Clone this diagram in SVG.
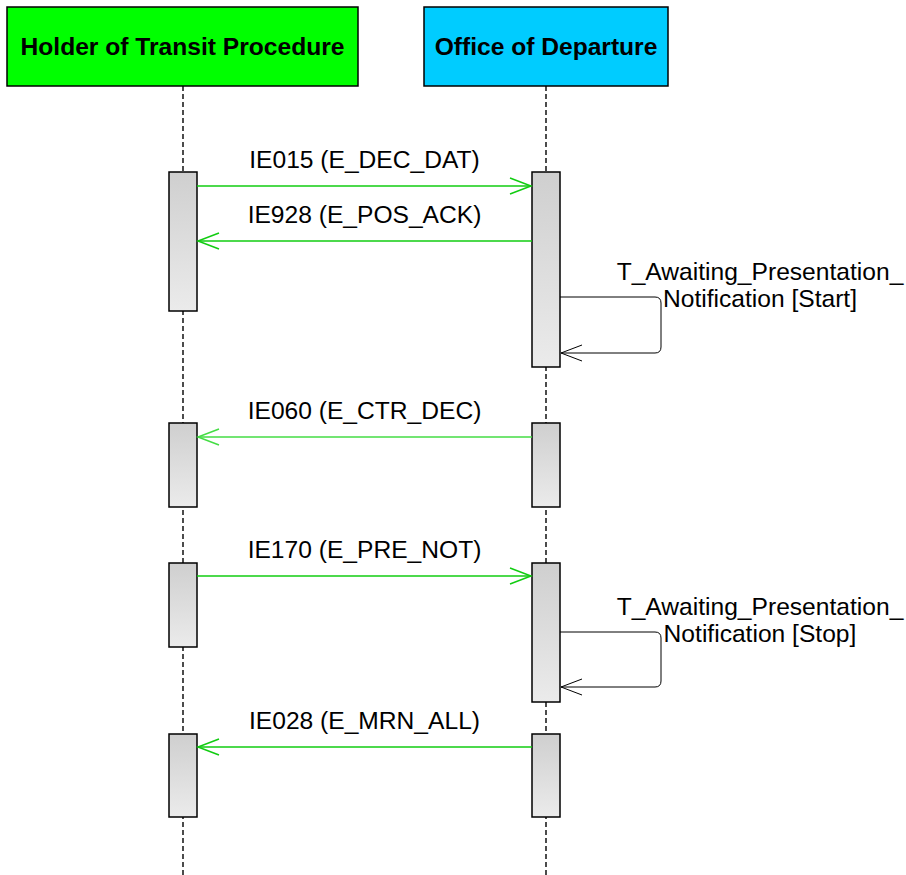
<svg xmlns="http://www.w3.org/2000/svg" width="906" height="875" viewBox="0 0 906 875">
<style>
.hdr{stroke:#000;stroke-width:1.5}
.ht{font-family:"Liberation Sans",Arial,sans-serif;font-size:24.6px;font-weight:bold;text-anchor:middle;fill:#000}
.life{stroke:#000;stroke-width:1.4;stroke-dasharray:5,3;fill:none}
.act{fill:url(#ag);stroke:#000;stroke-width:1.5}
.msg{stroke:#11CC11;stroke-width:1.5;fill:none}
.head{stroke:#11CC11;stroke-width:1.5;fill:none}
.self{stroke:#000;stroke-width:1;fill:none}
.lbl{font-family:"Liberation Sans",Arial,sans-serif;font-size:24.6px;text-anchor:middle;fill:#000}
</style>
<defs>
<linearGradient id="ag" x1="0" y1="0" x2="0" y2="1">
<stop offset="0" stop-color="#CFCFCF"/>
<stop offset="1" stop-color="#EBEBEB"/>
</linearGradient>
</defs>
<rect width="906" height="875" fill="#fff"/>
<g id="lifelines">
<line class="life" x1="183" y1="86" x2="183" y2="875"/>
<line class="life" x1="546" y1="86" x2="546" y2="875"/>
</g>
<g id="holder">
<rect class="hdr" x="7" y="7" width="351" height="79" fill="#00FF00"/>
<text class="ht" x="182.5" y="55">Holder of Transit Procedure</text>
</g>
<g id="office">
<rect class="hdr" x="424" y="7" width="244" height="79" fill="#00CCFF"/>
<text class="ht" x="546" y="55">Office of Departure</text>
</g>
<g id="activations">
<rect class="act" x="169" y="172" width="28" height="139"/>
<rect class="act" x="532" y="172" width="28" height="195"/>
<rect class="act" x="169" y="423" width="28" height="84"/>
<rect class="act" x="532" y="423" width="28" height="84"/>
<rect class="act" x="169" y="563" width="28" height="84"/>
<rect class="act" x="532" y="563" width="28" height="139"/>
<rect class="act" x="169" y="734" width="28" height="83"/>
<rect class="act" x="532" y="734" width="28" height="83"/>
</g>
<g id="connectors">
<line class="msg" x1="197" y1="186" x2="531" y2="186"/>
<polyline class="head" points="510,178 531,186 510,194"/>
<line class="msg" x1="532" y1="241" x2="198" y2="241"/>
<polyline class="head" points="219,233 198,241 219,249"/>
<path class="self" d="M560,297 H655 Q661,297 661,303 V347 Q661,353 655,353 H561"/>
<polyline class="self" points="582,345 561,353 582,361"/>
<line class="msg" x1="532" y1="437" x2="198" y2="437" style="stroke:#44DD44"/>
<polyline class="head" points="219,429 198,437 219,445" style="stroke:#44DD44"/>
<line class="msg" x1="197" y1="576" x2="531" y2="576"/>
<polyline class="head" points="510,568 531,576 510,584"/>
<path class="self" d="M560,632 H655 Q661,632 661,638 V681 Q661,687 655,687 H561"/>
<polyline class="self" points="582,679 561,687 582,695"/>
<line class="msg" x1="532" y1="747" x2="198" y2="747"/>
<polyline class="head" points="219,739 198,747 219,755"/>
</g>
<g id="labels">
<text class="lbl" x="364.5" y="168">IE015 (E_DEC_DAT)</text>
<text class="lbl" x="364.5" y="223">IE928 (E_POS_ACK)</text>
<text class="lbl" x="760" y="280">T_Awaiting_Presentation_</text>
<text class="lbl" x="760" y="307">Notification [Start]</text>
<text class="lbl" x="364.5" y="419">IE060 (E_CTR_DEC)</text>
<text class="lbl" x="364.5" y="558">IE170 (E_PRE_NOT)</text>
<text class="lbl" x="760" y="615">T_Awaiting_Presentation_</text>
<text class="lbl" x="760" y="642">Notification [Stop]</text>
<text class="lbl" x="364.5" y="729">IE028 (E_MRN_ALL)</text>
</g>
</svg>
